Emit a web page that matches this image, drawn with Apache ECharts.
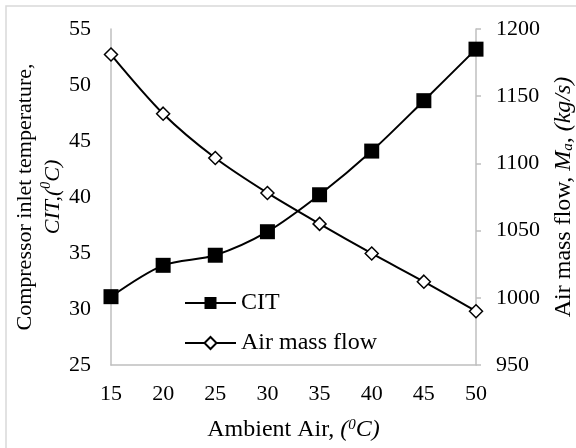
<!DOCTYPE html>
<html>
<head>
<meta charset="utf-8">
<script src="https://cdn.jsdelivr.net/npm/echarts@6/dist/echarts.min.js"></script>
<style>
html,body{margin:0;padding:0;background:#fff;}
#chart{width:576px;height:448px;}
</style>
</head>
<body>
<div id="chart"></div>
<script>
// ambient air temperature (deg C)
const ambient = [15, 20, 25, 30, 35, 40, 45, 50];
// compressor inlet temperature (deg C)
const cit = [31.1, 33.9, 34.8, 36.9, 40.2, 44.1, 48.6, 53.2];
// air mass flow (kg/s)
const airMass = [1181, 1137, 1104, 1078, 1055, 1033, 1012, 990];

const font = "'Liberation Serif', 'Times New Roman', serif";

const chart = echarts.init(document.getElementById("chart"));

chart.setOption({
    backgroundColor: "#fff",
    animation: false,
    textStyle: { fontFamily: font, color: "#000" },
    graphic: [{
        type: "rect",
        shape: { x: 6, y: 6, width: 600, height: 480 },
        style: { fill: "none", stroke: "#d9d9d9", lineWidth: 1.5 },
        silent: true
    }],
    grid: { left: 111, right: 100, top: 29, bottom: 83, outerBoundsMode: "none", containLabel: false },
    legend: {
        orient: "vertical",
        left: 179,
        top: 286,
        itemWidth: 51,
        itemHeight: 15,
        itemGap: 16,
        textStyle: { fontFamily: font, fontSize: 24, color: "#000" },
        data: ["CIT", "Air mass flow"]
    },
    xAxis: {
        type: "value",
        min: 15,
        max: 50,
        interval: 5,
        name: "{n|Ambient Air, }{i|(}{s|0}{i|C)}",
        nameLocation: "middle",
        nameGap: 53,
        nameMoveOverlap: false,
        nameTextStyle: {
            rich: {
                n: { fontFamily: font, fontSize: 24, color: "#000" },
                i: { fontFamily: font, fontSize: 24, fontStyle: "italic", color: "#000" },
                s: { fontFamily: font, fontSize: 15, fontStyle: "italic", color: "#000", verticalAlign: "top" }
            }
        },
        axisLine: { lineStyle: { color: "#bfbfbf", width: 1.5 } },
        axisTick: { show: false },
        splitLine: { show: false },
        axisLabel: { fontFamily: font, fontSize: 22, color: "#000", margin: 18 }
    },
    yAxis: [{
        type: "value",
        min: 25,
        max: 55,
        interval: 5,
        name: "{n|Compressor inlet temperature,}\n{i|CIT,(}{s|0}{i|C)}",
        nameLocation: "middle",
        nameRotate: 90,
        nameGap: 44,
        nameMoveOverlap: false,
        nameTextStyle: {
            align: "center",
            lineHeight: 28,
            rich: {
                n: { fontFamily: font, fontSize: 22, color: "#000", lineHeight: 28 },
                i: { fontFamily: font, fontSize: 22, fontStyle: "italic", color: "#000", lineHeight: 28 },
                s: { fontFamily: font, fontSize: 14, fontStyle: "italic", color: "#000", verticalAlign: "top" }
            }
        },
        axisLine: { show: true, lineStyle: { color: "#bfbfbf", width: 1.5 } },
        axisTick: { show: false },
        splitLine: { show: false },
        axisLabel: { fontFamily: font, fontSize: 22, color: "#000", margin: 20 }
    }, {
        type: "value",
        position: "right",
        min: 950,
        max: 1200,
        interval: 50,
        name: "{n|Air mass flow, }{i|M}{b|a}{n|, }{i|(kg/s)}",
        nameLocation: "middle",
        nameRotate: 90,
        nameGap: 76,
        nameMoveOverlap: false,
        nameTextStyle: {
            rich: {
                n: { fontFamily: font, fontSize: 24, color: "#000" },
                i: { fontFamily: font, fontSize: 24, fontStyle: "italic", color: "#000" },
                b: { fontFamily: font, fontSize: 15, fontStyle: "italic", color: "#000", verticalAlign: "bottom" }
            }
        },
        axisLine: { show: true, lineStyle: { color: "#bfbfbf", width: 1.5 } },
        axisTick: { show: true, inside: false, length: 5, lineStyle: { color: "#bfbfbf", width: 1.5 } },
        splitLine: { show: false },
        axisLabel: { fontFamily: font, fontSize: 22, color: "#000", margin: 20, formatter: v => String(v) }
    }],
    series: [{
        name: "CIT",
        type: "line",
        yAxisIndex: 0,
        smooth: 0.3,
        symbol: "rect",
        symbolSize: 15,
        lineStyle: { color: "#000", width: 2 },
        itemStyle: { color: "#000" },
        data: ambient.map((x, i) => [x, cit[i]])
    }, {
        name: "Air mass flow",
        type: "line",
        yAxisIndex: 1,
        smooth: 0.3,
        symbol: "diamond",
        symbolSize: 13,
        lineStyle: { color: "#000", width: 2 },
        itemStyle: { color: "#fff", borderColor: "#000", borderWidth: 1.5 },
        data: ambient.map((x, i) => [x, airMass[i]])
    }]
});
</script>
</body>
</html>
